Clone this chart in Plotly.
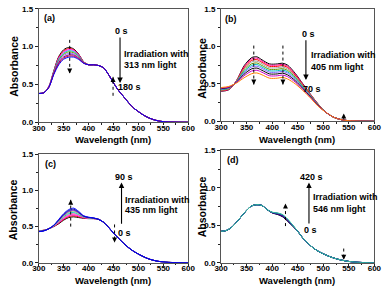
import plotly.graph_objects as go

FONT = "Liberation Sans, Arial, sans-serif"

# ---------------- tick labels ----------------
x_tick_vals = [300, 350, 400, 450, 500, 550, 600]
x_tick_text = ["300", "350", "400", "450", "500", "550", "600"]
y_tick_vals = [0.0, 0.5, 1.0, 1.5]
y_tick_text = ["0.0", "0.5", "1.0", "1.5"]

# ---------------- panel (a): 313 nm, 0 s -> 180 s ----------------
wl_a_var = [300, 310, 320, 330, 340, 350, 360, 370, 380, 390]
abs_a_var = [
    [0.38, 0.39, 0.47, 0.68, 0.87, 0.96, 0.99, 0.97, 0.90, 0.80],
    [0.38, 0.39, 0.47, 0.67, 0.86, 0.945, 0.975, 0.96, 0.895, 0.80],
    [0.38, 0.39, 0.47, 0.665, 0.85, 0.93, 0.96, 0.95, 0.89, 0.795],
    [0.38, 0.39, 0.465, 0.66, 0.835, 0.915, 0.945, 0.935, 0.88, 0.79],
    [0.38, 0.39, 0.465, 0.655, 0.82, 0.90, 0.93, 0.92, 0.87, 0.79],
    [0.38, 0.39, 0.465, 0.65, 0.805, 0.885, 0.91, 0.905, 0.86, 0.785],
    [0.38, 0.39, 0.46, 0.645, 0.79, 0.865, 0.89, 0.89, 0.85, 0.785],
    [0.38, 0.39, 0.46, 0.64, 0.775, 0.85, 0.875, 0.875, 0.84, 0.78],
    [0.38, 0.39, 0.46, 0.63, 0.76, 0.835, 0.86, 0.862, 0.83, 0.78],
]
wl_a_tail = [400, 410, 420, 430, 440, 450, 460, 470, 480, 490, 500, 510, 520, 530, 540, 550, 560, 580, 600]
abs_a_tail = [0.76, 0.76, 0.75, 0.72, 0.63, 0.52, 0.42, 0.34, 0.26, 0.19, 0.14, 0.095, 0.06, 0.035, 0.018, 0.008, 0.004, 0.001, 0.0]
colors_a = ["#000000", "#FF0000", "#FF00FF", "#00CCCC", "#669900", "#9966FF", "#800080", "#CC0033", "#0000FF"]

# ---------------- panel (b): 405 nm, 0 s -> 70 s ----------------
wl_b_var = [300, 315, 330, 345, 360, 370, 380, 395, 410, 420, 430, 445, 460, 475, 490]
abs_b_var = [
    [0.40, 0.42, 0.54, 0.74, 0.85, 0.86, 0.82, 0.765, 0.765, 0.775, 0.75, 0.64, 0.50, 0.36, 0.23],
    [0.404, 0.424, 0.538, 0.727, 0.833, 0.843, 0.804, 0.75, 0.75, 0.76, 0.735, 0.629, 0.493, 0.356, 0.228],
    [0.409, 0.428, 0.535, 0.713, 0.813, 0.823, 0.786, 0.733, 0.733, 0.743, 0.719, 0.616, 0.485, 0.352, 0.225],
    [0.414, 0.432, 0.532, 0.697, 0.792, 0.802, 0.766, 0.714, 0.714, 0.724, 0.70, 0.602, 0.476, 0.347, 0.222],
    [0.419, 0.437, 0.529, 0.679, 0.768, 0.778, 0.744, 0.693, 0.693, 0.703, 0.68, 0.587, 0.466, 0.341, 0.219],
    [0.424, 0.442, 0.526, 0.663, 0.747, 0.757, 0.724, 0.674, 0.674, 0.684, 0.661, 0.573, 0.457, 0.336, 0.216],
    [0.429, 0.446, 0.523, 0.647, 0.725, 0.735, 0.704, 0.655, 0.655, 0.665, 0.643, 0.559, 0.448, 0.331, 0.213],
    [0.435, 0.452, 0.519, 0.628, 0.70, 0.71, 0.68, 0.632, 0.632, 0.642, 0.62, 0.542, 0.437, 0.325, 0.209],
    [0.442, 0.457, 0.515, 0.607, 0.671, 0.681, 0.654, 0.607, 0.607, 0.617, 0.596, 0.524, 0.425, 0.319, 0.205],
    [0.45, 0.465, 0.51, 0.58, 0.635, 0.645, 0.62, 0.575, 0.575, 0.585, 0.565, 0.50, 0.41, 0.31, 0.20],
]
wl_b_tail = [505, 520, 535, 550, 575, 600]
abs_b_tail = [0.12, 0.055, 0.022, 0.008, 0.002, 0.0]
colors_b = ["#000000", "#FF0099", "#FF0000", "#A0A0A0", "#669900", "#00C0C0", "#8060FF", "#000000", "#CC00CC", "#FF8000"]

# ---------------- panel (c): 435 nm, 0 s -> 90 s ----------------
wl_c_var = [300, 310, 320, 330, 340, 350, 360, 370, 380, 390, 400, 410]
abs_c_var = [
    [0.44, 0.45, 0.47, 0.50, 0.54, 0.59, 0.625, 0.635, 0.625, 0.615, 0.61, 0.61],
    [0.44, 0.45, 0.47, 0.503, 0.548, 0.601, 0.639, 0.65, 0.636, 0.619, 0.612, 0.611],
    [0.438, 0.448, 0.47, 0.505, 0.555, 0.612, 0.653, 0.665, 0.646, 0.623, 0.614, 0.612],
    [0.437, 0.447, 0.47, 0.508, 0.563, 0.624, 0.667, 0.68, 0.656, 0.627, 0.617, 0.613],
    [0.436, 0.446, 0.47, 0.51, 0.57, 0.635, 0.68, 0.695, 0.667, 0.632, 0.62, 0.614],
    [0.434, 0.444, 0.47, 0.513, 0.578, 0.646, 0.694, 0.71, 0.678, 0.636, 0.622, 0.616],
    [0.433, 0.443, 0.47, 0.515, 0.585, 0.657, 0.708, 0.725, 0.689, 0.641, 0.625, 0.617],
    [0.432, 0.442, 0.47, 0.518, 0.593, 0.669, 0.722, 0.74, 0.699, 0.645, 0.627, 0.618],
    [0.43, 0.44, 0.47, 0.52, 0.60, 0.68, 0.735, 0.755, 0.71, 0.65, 0.63, 0.62],
]
wl_c_tail = [420, 430, 440, 450, 460, 470, 480, 490, 500, 510, 520, 530, 540, 550, 560, 580, 600]
abs_c_tail = [0.60, 0.56, 0.49, 0.41, 0.34, 0.27, 0.21, 0.16, 0.12, 0.085, 0.055, 0.035, 0.02, 0.012, 0.006, 0.002, 0.0]
colors_c = ["#000000", "#FF0000", "#FF00FF", "#FF6699", "#00CCCC", "#99CC66", "#6600CC", "#000080", "#0000FF"]

# ---------------- panel (d): 546 nm, 0 s -> 420 s ----------------
wl_d_front = [300, 310, 320, 330, 340, 350, 360, 370, 380, 390]
abs_d_front = [0.42, 0.43, 0.47, 0.54, 0.62, 0.70, 0.76, 0.775, 0.765, 0.71]
wl_d_var = [400, 410, 420, 430, 440]
abs_d_var = [
    [0.665, 0.645, 0.615, 0.555, 0.49],
    [0.667, 0.65, 0.62, 0.56, 0.492],
    [0.669, 0.654, 0.626, 0.565, 0.495],
    [0.671, 0.657, 0.632, 0.571, 0.498],
    [0.672, 0.66, 0.637, 0.576, 0.50],
    [0.674, 0.663, 0.641, 0.581, 0.503],
    [0.675, 0.665, 0.645, 0.585, 0.505],
]
wl_d_tail = [450, 460, 470, 480, 490, 500, 510, 520, 530, 540, 550, 560, 580, 600]
abs_d_tail = [0.42, 0.33, 0.26, 0.20, 0.155, 0.12, 0.09, 0.065, 0.045, 0.03, 0.018, 0.01, 0.003, 0.0]
colors_d = ["#000000", "#000080", "#4B0082", "#800080", "#0000CD", "#008080", "#3CC0A0"]

W, H = 392, 293
fig = go.Figure()


def add_curve(n, x, y, color):
    sfx = "" if n == 1 else str(n)
    fig.add_trace(go.Scatter(
        x=x, y=y, mode="lines",
        line=dict(color=color, width=1, shape="spline", smoothing=0.8),
        xaxis="x" + sfx, yaxis="y" + sfx, showlegend=False, hoverinfo="skip"))


for ys, c in zip(abs_a_var, colors_a):
    add_curve(1, wl_a_var + wl_a_tail, ys + abs_a_tail, c)
for ys, c in zip(abs_b_var, colors_b):
    add_curve(2, wl_b_var + wl_b_tail, ys + abs_b_tail, c)
for ys, c in zip(abs_c_var, colors_c):
    add_curve(3, wl_c_var + wl_c_tail, ys + abs_c_tail, c)
for ys, c in zip(abs_d_var, colors_d):
    add_curve(4, wl_d_front + wl_d_var + wl_d_tail, abs_d_front + ys + abs_d_tail, c)

tickfont = dict(family=FONT, size=8, color="black", weight="bold")


def xax(dom, anchor):
    return dict(domain=dom, anchor=anchor, range=[300, 600], tickmode="array",
                tickvals=x_tick_vals, ticktext=x_tick_text, ticks="outside", ticklen=2,
                tickwidth=1, tickcolor="#222", showline=True, linecolor="#555", linewidth=1,
                mirror=True, showgrid=False, zeroline=False, tickfont=tickfont,
                ticklabelstandoff=-4,
                minor=dict(ticks="outside", ticklen=1.5, tick0=300, dtick=25, tickcolor="#222"),
                fixedrange=True)


def yax(dom, anchor):
    return dict(domain=dom, anchor=anchor, range=[0, 1.5], tickmode="array",
                tickvals=y_tick_vals, ticktext=y_tick_text, tickformat=".1f",
                ticks="outside", ticklen=3,
                tickwidth=1, tickcolor="#222", showline=True, linecolor="#555", linewidth=1,
                mirror=True, showgrid=False, zeroline=False, tickfont=tickfont,
                minor=dict(ticks="outside", ticklen=2, tick0=0, dtick=0.25, tickcolor="#222"),
                fixedrange=True)


xa = [33 / W, 188 / W]
xb = [222 / W, 381 / W]
fig.update_layout(
    xaxis=xax(xa, "y"), yaxis=yax([1 - 122 / H, 1 - 5 / H], "x"),
    xaxis2=xax(xb, "y2"), yaxis2=yax([1 - 121 / H, 1 - 5 / H], "x2"),
    xaxis3=xax(xa, "y3"), yaxis3=yax([1 - 267 / H, 1 - 155 / H], "x3"),
    xaxis4=xax(xb, "y4"), yaxis4=yax([1 - 267 / H, 1 - 151 / H], "x4"),
)

annotations = []
shapes = []
tfont = dict(family=FONT, size=9, color="black", weight="bold")


def text(n, x, y, s, xanchor="left"):
    sfx = "" if n == 1 else str(n)
    annotations.append(dict(x=x, y=y, xref="x" + sfx, yref="y" + sfx, text=s, showarrow=False,
                            xanchor=xanchor, yanchor="middle", font=tfont))


def solid_arrow(n, x, y_from, y_to):
    sfx = "" if n == 1 else str(n)
    annotations.append(dict(x=x, y=y_to, ax=x, ay=y_from, xref="x" + sfx, yref="y" + sfx,
                            axref="x" + sfx, ayref="y" + sfx, text="", showarrow=True,
                            arrowhead=2, arrowsize=1, arrowwidth=1.1, arrowcolor="black"))


def dotted_arrow(n, x, y_from, y_to):
    sfx = "" if n == 1 else str(n)
    shapes.append(dict(type="line", xref="x" + sfx, yref="y" + sfx, x0=x, x1=x, y0=y_from, y1=y_to,
                       line=dict(color="black", width=1, dash="dot")))
    sign = 1 if y_to > y_from else -1
    annotations.append(dict(x=x, y=y_to, xref="x" + sfx, yref="y" + sfx, ax=0, ay=sign * 5,
                            text="", showarrow=True, arrowhead=2, arrowsize=1,
                            arrowwidth=1, arrowcolor="black"))


# (a)
text(1, 306, 1.38, "(a)")
text(1, 466, 1.205, "0 s", "center")
solid_arrow(1, 463, 1.14, 0.52)
text(1, 466, 0.90, "Irradiation with")
text(1, 466, 0.757, "313 nm light")
text(1, 455, 0.46, "180 s")
dotted_arrow(1, 362, 1.09, 0.645)
dotted_arrow(1, 449, 0.35, 0.60)

# (b)
text(2, 304, 1.37, "(b)")
text(2, 472, 1.16, "0 s", "center")
solid_arrow(2, 466, 1.10, 0.55)
text(2, 472, 0.88, "Irradiation with")
text(2, 472, 0.724, "405 nm light")
text(2, 457, 0.427, "70 s")
dotted_arrow(2, 364, 1.01, 0.49)
dotted_arrow(2, 421, 1.01, 0.49)
dotted_arrow(2, 540, 0.026, 0.103)

# (c)
text(3, 308, 1.37, "(c)")
text(3, 470, 1.18, "90 s", "center")
solid_arrow(3, 466, 0.52, 1.11)
text(3, 468, 0.87, "Irradiation with")
text(3, 468, 0.723, "435 nm light")
text(3, 455, 0.415, "0 s")
dotted_arrow(3, 364, 0.50, 0.87)
dotted_arrow(3, 452, 0.53, 0.28)

# (d)
text(4, 307, 1.37, "(d)")
text(4, 477, 1.138, "420 s", "center")
solid_arrow(4, 472, 0.504, 1.07)
text(4, 475, 0.879, "Irradiation with")
text(4, 475, 0.724, "546 nm light")
text(4, 475, 0.44, "0 s", "center")
dotted_arrow(4, 426, 0.49, 0.79)
dotted_arrow(4, 540, 0.19, 0.04)

# axis titles (paper coordinates)
xt_font = dict(family=FONT, size=9.5, color="black", weight="bold")
yt_font = dict(family=FONT, size=10.5, color="black", weight="bold")
for cx, cy in [(110, 140), (301, 140), (110, 285), (301, 285)]:
    annotations.append(dict(x=cx / W, y=1 - cy / H, xref="paper", yref="paper",
                            text="Wavelength (nm)", showarrow=False, font=xt_font,
                            xanchor="center", yanchor="middle"))
for cx, cy in [(7, 64), (202, 66), (7, 212), (202, 209)]:
    annotations.append(dict(x=cx / W, y=1 - cy / H, xref="paper", yref="paper",
                            text="Absorbance", showarrow=False, font=yt_font, textangle=-90,
                            xanchor="center", yanchor="middle"))

fig.update_layout(
    width=W, height=H, margin=dict(l=0, r=0, t=0, b=0, pad=0),
    paper_bgcolor="white", plot_bgcolor="white",
    annotations=annotations, shapes=shapes, showlegend=False,
)

fig.write_html(
    "out.html",
    config={"displayModeBar": False},
    post_script="document.body.style.margin='0';document.body.style.overflow='hidden';",
)
